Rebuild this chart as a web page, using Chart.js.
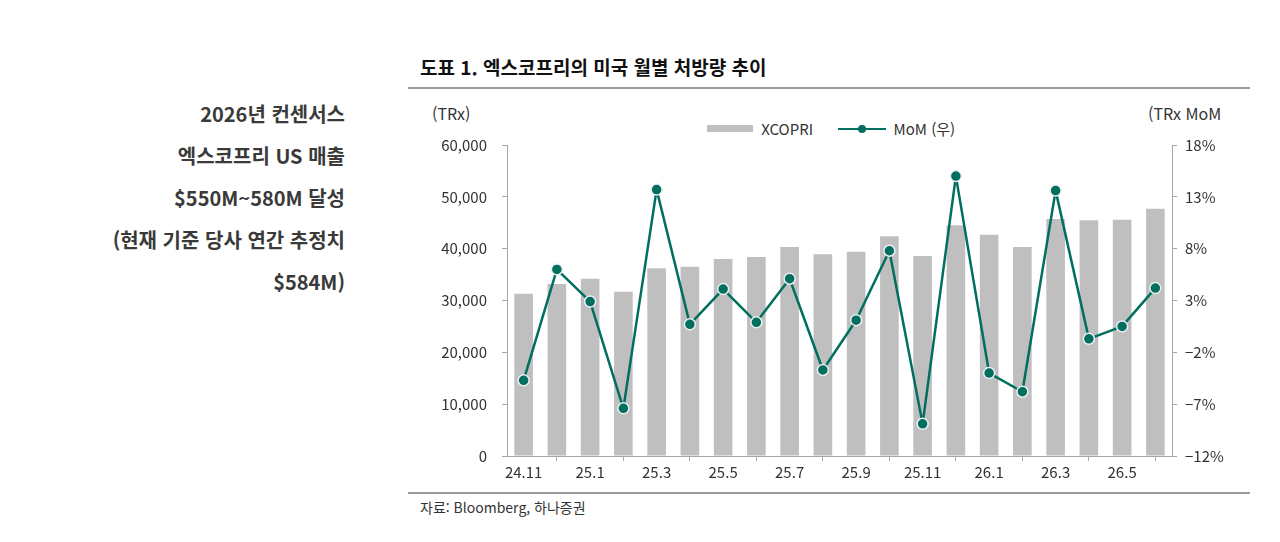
<!DOCTYPE html>
<html lang="ko">
<head>
<meta charset="utf-8">
<title>엑스코프리 미국 월별 처방량 추이</title>
<script src="https://cdn.jsdelivr.net/npm/chart.js@4.4.1/dist/chart.umd.min.js"></script>
<style>
  html, body { margin: 0; padding: 0; background: #fff; }
  body { width: 1280px; height: 542px; position: relative; overflow: hidden;
         font-family: "Noto Sans CJK KR", "Noto Sans", sans-serif; color: #333; }
  .note { position: absolute; right: 935px; top: 93px; text-align: right;
          font-size: 20px; font-weight: bold; line-height: 42px; color: #3a3a3a; }
  .title { position: absolute; left: 420px; top: 53px; font-size: 19px; font-weight: bold; color: #111; }
  .rule { position: absolute; left: 408px; width: 842px; height: 2px; background: #9a9a9a; }
  .unit { position: absolute; top: 101px; font-size: 16px; color: #333; }
  .legend { position: absolute; top: 116px; left: 707px; font-size: 15px; color: #333; white-space: nowrap; }
  .legend span { display: inline-block; vertical-align: middle; }
  .src { position: absolute; left: 420px; top: 497px; font-size: 14px; color: #333; }
  #wrap { position: absolute; left: 400px; top: 121px; width: 880px; height: 361px; }
</style>
</head>
<body>
<div class="note">2026년 컨센서스<br>엑스코프리 US 매출<br>$550M~580M 달성<br>(현재 기준 당사 연간 추정치<br>$584M)</div>
<div class="title">도표 1. 엑스코프리의 미국 월별 처방량 추이</div>
<div class="rule" style="top:87px"></div>
<div class="unit" style="left:432px">(TRx)</div>
<div class="unit" style="left:1148px">(TRx MoM</div>
<div class="legend">
  <span style="width:46px;height:7px;background:#bfbfbf"></span>
  <span style="margin-left:4px">XCOPRI</span>
  <span style="margin-left:21px;position:relative;width:48px;height:10px">
    <span style="position:absolute;left:0;top:4px;width:48px;height:2px;background:#006f5e"></span>
    <span style="position:absolute;left:20px;top:1px;width:8px;height:8px;border-radius:50%;background:#006f5e"></span>
  </span>
  <span style="margin-left:3px">MoM (우)</span>
</div>
<div id="wrap"><canvas id="chart"></canvas></div>
<div class="rule" style="top:492px"></div>
<div class="src">자료: Bloomberg, 하나증권</div>

<script>
// months 24.11 ~ 26.6
var months = ['24.11', '24.12', '25.1', '25.2', '25.3', '25.4', '25.5', '25.6', '25.7', '25.8',
              '25.9', '25.10', '25.11', '25.12', '26.1', '26.2', '26.3', '26.4', '26.5', '26.6'];
// monthly TRx
var trx = [31300, 33200, 34200, 31700, 36200, 36500, 38000, 38400, 40300, 38900,
           39400, 42400, 38600, 44500, 42700, 40300, 45700, 45500, 45600, 47700];
// month-over-month change, %
var mom = [-4.7, 6.0, 2.9, -7.4, 13.7, 0.7, 4.1, 0.9, 5.1, -3.7,
           1.1, 7.8, -8.9, 15.0, -4.0, -5.8, 13.6, -0.7, 0.5, 4.2];

var axisGray = '#a6a6a6';
var tickFont = { family: '"Noto Sans CJK KR", "Noto Sans", sans-serif', size: 15 };

function fitWidth(w) { return function(scale) { scale.width = w; }; }

new Chart(document.getElementById('chart'), {
  data: {
    labels: months,
    datasets: [
      {
        type: 'line',
        label: 'MoM (우)',
        data: mom,
        yAxisID: 'y2',
        order: 0,
        clip: false,
        borderColor: '#006f5e',
        borderWidth: 2.5,
        borderJoinStyle: 'round',
        pointRadius: 5.5,
        pointBackgroundColor: '#006f5e',
        pointBorderColor: '#eeeef4',
        pointBorderWidth: 1.5,
        tension: 0
      },
      {
        type: 'bar',
        label: 'XCOPRI',
        data: trx,
        yAxisID: 'y',
        order: 1,
        backgroundColor: '#bfbfbf',
        categoryPercentage: 0.56,
        barPercentage: 1
      }
    ]
  },
  options: {
    responsive: true,
    maintainAspectRatio: false,
    animation: false,
    layout: { padding: { top: 6, left: 0, right: 0, bottom: 0 } },
    plugins: { legend: { display: false }, tooltip: { enabled: false } },
    scales: {
      x: {
        grid: { display: true, drawOnChartArea: false, tickLength: 5, color: axisGray, offset: true },
        border: { display: true, color: axisGray },
        ticks: {
          autoSkip: false, maxRotation: 0, padding: 2, color: '#333', font: tickFont,
          callback: function(v, i) { return i % 2 === 0 ? months[i] : null; }
        },
        afterFit: function(scale) { scale.height = 26; }
      },
      y: {
        position: 'left',
        min: 0, max: 60000,
        grid: { drawOnChartArea: false, tickLength: 5, color: axisGray },
        border: { display: true, color: axisGray },
        ticks: {
          stepSize: 10000, padding: 15, color: '#333', font: tickFont,
          callback: function(v) { return v.toLocaleString('en-US'); }
        },
        afterFit: fitWidth(107)
      },
      y2: {
        position: 'right',
        min: -12, max: 18,
        grid: { drawOnChartArea: false, tickLength: 5, color: axisGray },
        border: { display: true, color: axisGray },
        ticks: {
          stepSize: 5, padding: 8, color: '#333', font: tickFont,
          callback: function(v) { return (v < 0 ? '\u2212' + Math.abs(v) : v) + '%'; }
        },
        afterFit: fitWidth(108)
      }
    }
  }
});
</script>
</body>
</html>
